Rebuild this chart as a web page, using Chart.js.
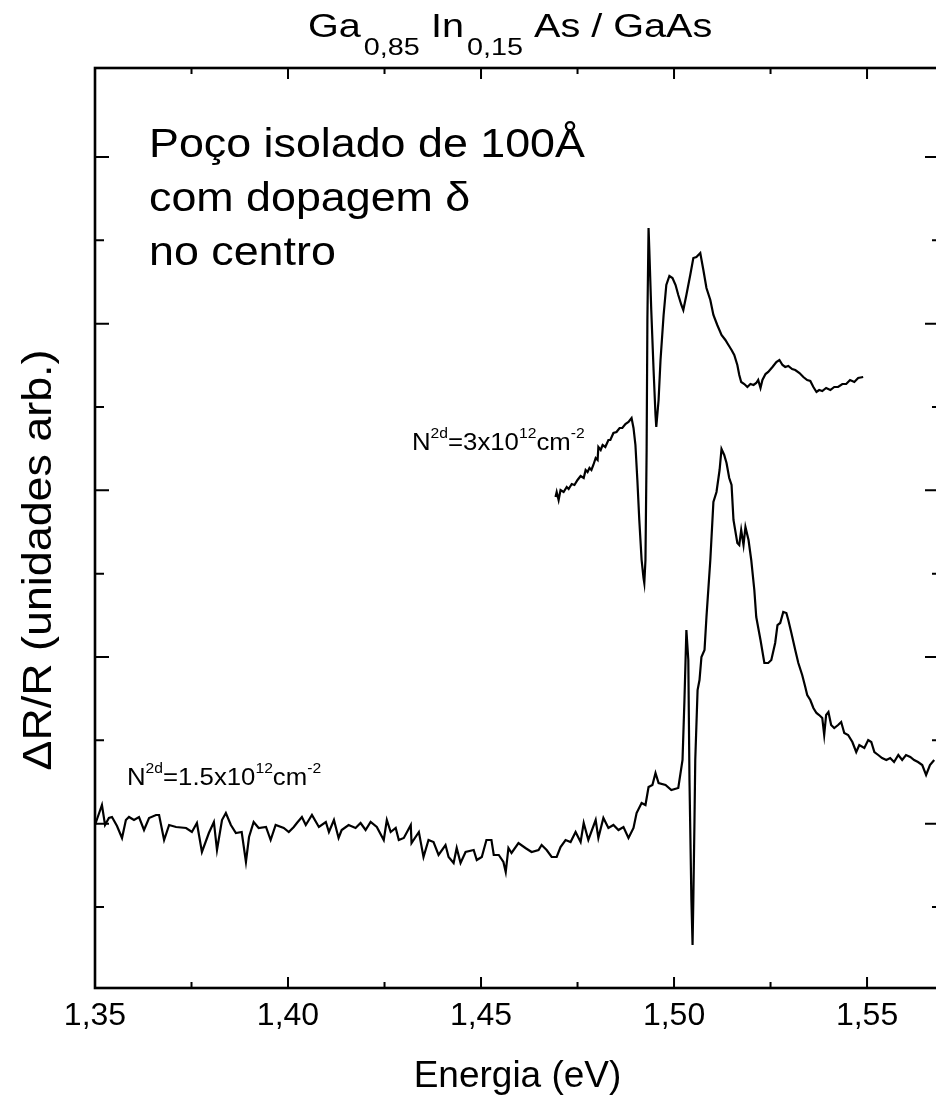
<!DOCTYPE html>
<html>
<head>
<meta charset="utf-8">
<script src="https://cdn.jsdelivr.net/npm/chart.js@4.4.1/dist/chart.umd.min.js"></script>
<style>
  html, body { margin: 0; padding: 0; background: #fff; overflow: hidden; }
  #wrap { position: relative; width: 950px; height: 1109px; }
</style>
</head>
<body>
<div id="wrap"><canvas id="grafico"></canvas></div>
<script>
// eixo x (energia, eV)
const X_MIN = 1.35;
const X_MAX = 1.5689;
const X_TICKS = [1.35, 1.40, 1.45, 1.50, 1.55];
const X_TICK_LABELS = ['1,35', '1,40', '1,45', '1,50', '1,55'];
const X_MINOR = [1.375, 1.425, 1.475, 1.525];

// eixo y (unidades arbitrárias, sem rótulos)
const Y_MIN = -9.72;
const Y_MAX = 100.68;
const Y_MAJOR = [10, 30, 50, 70, 90];
const Y_MINOR = [0, 20, 40, 60, 80];

// espectro N2d = 1.5x10^12 cm^-2
const E_15 = [
  1.3500, 1.3518, 1.3526, 1.3536, 1.3544, 1.3557, 1.3570, 1.3580, 1.3588, 1.3601,
  1.3614, 1.3627, 1.3640, 1.3658, 1.3666, 1.3679, 1.3692, 1.3710, 1.3736, 1.3751,
  1.3764, 1.3777, 1.3795, 1.3808, 1.3816, 1.3829, 1.3839, 1.3852, 1.3865, 1.3880,
  1.3891, 1.3899, 1.3911, 1.3924, 1.3943, 1.3955, 1.3968, 1.3989, 1.4002, 1.4015,
  1.4023, 1.4036, 1.4046, 1.4054, 1.4062, 1.4080, 1.4098, 1.4106, 1.4119, 1.4131,
  1.4139, 1.4157, 1.4175, 1.4188, 1.4201, 1.4214, 1.4230, 1.4248, 1.4256, 1.4266,
  1.4279, 1.4287, 1.4300, 1.4318, 1.4320, 1.4339, 1.4351, 1.4364, 1.4377, 1.4390,
  1.4408, 1.4416, 1.4429, 1.4437, 1.4447, 1.4460, 1.4481, 1.4489, 1.4502, 1.4514,
  1.4527, 1.4533, 1.4546, 1.4558, 1.4564, 1.4571, 1.4579, 1.4597, 1.4615, 1.4631,
  1.4649, 1.4657, 1.4670, 1.4683, 1.4696, 1.4706, 1.4719, 1.4732, 1.4745, 1.4758,
  1.4766, 1.4778, 1.4797, 1.4804, 1.4817, 1.4830, 1.4843, 1.4856, 1.4869, 1.4882,
  1.4895, 1.4903, 1.4916, 1.4926, 1.4934, 1.4944, 1.4952, 1.4960, 1.4978, 1.4993,
  1.5011, 1.5022, 1.5027, 1.5032, 1.5037, 1.5040, 1.5045, 1.5048, 1.5050, 1.5053,
  1.5055, 1.5061, 1.5066, 1.5071, 1.5079, 1.5084, 1.5094, 1.5102, 1.5110, 1.5118,
  1.5123, 1.5130, 1.5136, 1.5143, 1.5149, 1.5154, 1.5164, 1.5169, 1.5174, 1.5180,
  1.5185, 1.5193, 1.5200, 1.5208, 1.5213, 1.5224, 1.5234, 1.5244, 1.5252, 1.5262,
  1.5268, 1.5275, 1.5283, 1.5291, 1.5296, 1.5304, 1.5314, 1.5322, 1.5332, 1.5340,
  1.5345, 1.5353, 1.5361, 1.5369, 1.5376, 1.5384, 1.5389, 1.5394, 1.5400, 1.5407,
  1.5415, 1.5425, 1.5433, 1.5441, 1.5451, 1.5462, 1.5472, 1.5480, 1.5493, 1.5503,
  1.5511, 1.5519, 1.5529, 1.5539, 1.5550, 1.5560, 1.5570, 1.5581, 1.5591, 1.5601,
  1.5612, 1.5622, 1.5632, 1.5643, 1.5653, 1.5663, 1.5674
];
const DR_15 = [
  9.84, 12.24, 9.84, 10.68, 10.80, 9.72, 8.28, 10.44, 10.80, 10.44,
  10.80, 9.24, 10.68, 11.04, 11.04, 8.04, 9.84, 9.60, 9.48, 9.00,
  10.08, 6.60, 8.88, 10.20, 6.84, 10.44, 11.28, 9.84, 8.88, 9.00,
  5.40, 8.40, 10.20, 9.48, 9.60, 8.04, 9.84, 9.48, 9.00, 9.60,
  10.08, 10.80, 9.84, 10.44, 11.04, 9.60, 10.20, 9.00, 10.44, 8.28,
  9.24, 9.84, 9.48, 10.08, 9.24, 10.20, 9.60, 8.04, 10.44, 9.00,
  9.48, 8.04, 8.28, 9.84, 7.68, 9.00, 6.00, 8.04, 7.80, 6.24,
  7.44, 6.00, 5.28, 7.08, 5.28, 6.60, 6.84, 5.64, 6.00, 8.04,
  8.04, 6.24, 6.24, 5.40, 4.20, 7.08, 6.48, 7.68, 7.08, 6.60,
  6.84, 7.44, 6.84, 6.00, 6.00, 7.20, 8.04, 7.80, 9.00, 7.80,
  10.08, 8.04, 10.44, 8.28, 10.68, 9.48, 9.84, 9.24, 9.60, 8.28,
  9.48, 11.28, 12.48, 12.24, 14.40, 14.64, 16.08, 14.88, 14.64, 14.04,
  14.28, 17.64, 24.84, 33.24, 29.64, 15.24, 0.84, -4.56, 0.84, 10.44,
  17.64, 26.04, 27.24, 30.00, 30.84, 34.80, 41.64, 48.60, 49.80, 52.44,
  54.96, 54.24, 53.28, 51.48, 50.64, 46.44, 43.68, 43.44, 45.24, 43.44,
  45.60, 44.04, 41.64, 38.04, 34.80, 32.04, 29.28, 29.28, 29.64, 31.68,
  33.84, 34.08, 35.40, 35.28, 34.44, 32.88, 30.84, 29.28, 27.84, 26.40,
  25.44, 24.84, 23.88, 23.28, 23.04, 22.68, 20.64, 23.04, 23.40, 21.84,
  21.48, 21.84, 22.20, 20.88, 20.64, 19.80, 18.60, 19.44, 19.08, 20.04,
  19.80, 18.60, 18.24, 17.88, 17.64, 17.88, 17.40, 18.24, 17.64, 18.24,
  18.00, 17.64, 17.40, 17.04, 15.84, 17.04, 17.64
];

// espectro N2d = 3x10^12 cm^-2
const E_30 = [
  1.4693, 1.4696, 1.4701, 1.4706, 1.4714, 1.4722, 1.4727, 1.4735, 1.4742, 1.4750,
  1.4758, 1.4766, 1.4771, 1.4776, 1.4781, 1.4786, 1.4791, 1.4797, 1.4802, 1.4804,
  1.4810, 1.4815, 1.4822, 1.4830, 1.4835, 1.4843, 1.4851, 1.4859, 1.4866, 1.4874,
  1.4882, 1.4890, 1.4895, 1.4900, 1.4905, 1.4910, 1.4916, 1.4921, 1.4923, 1.4926,
  1.4929, 1.4931, 1.4934, 1.4936, 1.4941, 1.4947, 1.4952, 1.4954, 1.4960, 1.4965,
  1.4973, 1.4980, 1.4988, 1.4996, 1.5004, 1.5011, 1.5019, 1.5024, 1.5032, 1.5042,
  1.5050, 1.5058, 1.5068, 1.5076, 1.5084, 1.5094, 1.5102, 1.5112, 1.5123, 1.5133,
  1.5141, 1.5149, 1.5156, 1.5164, 1.5169, 1.5174, 1.5182, 1.5190, 1.5198, 1.5206,
  1.5213, 1.5218, 1.5224, 1.5229, 1.5237, 1.5244, 1.5255, 1.5265, 1.5273, 1.5281,
  1.5288, 1.5296, 1.5306, 1.5314, 1.5325, 1.5335, 1.5345, 1.5353, 1.5361, 1.5369,
  1.5376, 1.5384, 1.5394, 1.5405, 1.5415, 1.5425, 1.5436, 1.5446, 1.5456, 1.5467,
  1.5477, 1.5490
];
const DR_30 = [
  49.20, 49.80, 48.84, 50.04, 49.80, 50.40, 50.16, 50.76, 50.64, 51.24,
  51.72, 51.48, 52.44, 52.20, 52.68, 52.44, 53.04, 53.88, 53.64, 55.20,
  54.84, 55.44, 55.20, 56.04, 56.04, 56.88, 57.00, 57.48, 57.48, 57.96,
  58.20, 58.68, 57.48, 55.44, 51.24, 46.44, 41.64, 39.48, 38.88, 41.64,
  54.84, 70.44, 81.48, 78.84, 71.64, 64.44, 59.04, 57.60, 60.84, 65.64,
  71.04, 74.64, 75.72, 75.48, 74.64, 73.44, 72.24, 71.64, 73.44, 75.84,
  77.88, 78.00, 78.48, 76.44, 74.28, 72.84, 71.04, 69.84, 68.64, 68.04,
  67.44, 66.84, 66.24, 65.04, 63.84, 63.00, 62.76, 62.40, 62.76, 62.64,
  62.88, 63.24, 62.28, 63.24, 63.96, 64.20, 64.80, 65.40, 65.64, 65.04,
  64.80, 64.92, 64.56, 64.44, 64.08, 63.60, 63.24, 63.12, 62.40, 61.80,
  62.04, 61.92, 62.28, 62.04, 62.40, 62.40, 62.76, 62.76, 63.24, 63.00,
  63.48, 63.60
];

const FONT = '"Liberation Sans", Arial, Helvetica, sans-serif';

// escreve texto com partes em subscrito / sobrescrito, levemente alargado
function textoRico(ctx, partes, x, y, tam, tamPeq, desloc, sx) {
  let cx = x;
  for (const p of partes) {
    const t = p.m ? tamPeq : tam;
    ctx.save();
    ctx.font = t + 'px ' + FONT;
    ctx.translate(cx, y + (p.m ? desloc : 0));
    ctx.scale(sx, 1);
    ctx.fillText(p.t, 0, 0);
    cx += ctx.measureText(p.t).width * sx + (p.g || 0);
    ctx.restore();
  }
}

const molduraPlugin = {
  id: 'moldura',
  afterDatasetsDraw(chart) {
    const { ctx, chartArea: a, scales: { x, y } } = chart;
    ctx.save();
    ctx.strokeStyle = '#000';
    ctx.lineWidth = 2.6;
    ctx.strokeRect(a.left, a.top, a.right - a.left, a.bottom - a.top);

    ctx.lineWidth = 2;
    ctx.beginPath();
    const marcaX = (v, len) => {
      const px = x.getPixelForValue(v);
      ctx.moveTo(px, a.bottom); ctx.lineTo(px, a.bottom - len);
      ctx.moveTo(px, a.top); ctx.lineTo(px, a.top + len);
    };
    const marcaY = (v, lenE, lenD) => {
      const py = y.getPixelForValue(v);
      ctx.moveTo(a.left, py); ctx.lineTo(a.left + lenE, py);
      ctx.moveTo(a.right, py); ctx.lineTo(a.right - lenD, py);
    };
    X_TICKS.forEach(v => marcaX(v, 11));
    X_MINOR.forEach(v => marcaX(v, 6));
    Y_MAJOR.forEach(v => marcaY(v, 14, 15));
    Y_MINOR.forEach(v => marcaY(v, 9, 8));
    ctx.stroke();
    ctx.restore();
  },
  afterDraw(chart) {
    const { ctx } = chart;
    ctx.save();
    ctx.fillStyle = '#000';
    ctx.textBaseline = 'alphabetic';
    ctx.textAlign = 'left';

    // título com subscritos
    textoRico(ctx, [
      { t: 'Ga', g: 3 }, { t: '0,85', m: true, g: 0 },
      { t: ' In', g: 3 }, { t: '0,15', m: true, g: 0 },
      { t: ' As / GaAs' }
    ], 308, 37, 33, 24, 18, 1.2);

    // anotação
    ctx.save();
    ctx.font = '40px ' + FONT;
    ['Poço isolado de 100Å', 'com dopagem δ', 'no centro'].forEach((l, i) => {
      ctx.save();
      ctx.translate(149, 157 + i * 54);
      ctx.scale(1.12, 1);
      ctx.fillText(l, 0, 0);
      ctx.restore();
    });
    ctx.restore();

    // rótulos das curvas
    textoRico(ctx, [
      { t: 'N' }, { t: '2d', m: true }, { t: '=3x10' }, { t: '12', m: true },
      { t: 'cm' }, { t: '-2', m: true }
    ], 412, 450, 23, 14, -12, 1.12);
    textoRico(ctx, [
      { t: 'N' }, { t: '2d', m: true }, { t: '=1.5x10' }, { t: '12', m: true },
      { t: 'cm' }, { t: '-2', m: true }
    ], 127, 785, 23, 14, -12, 1.12);

    // título do eixo y
    ctx.save();
    ctx.translate(40, 560);
    ctx.rotate(-Math.PI / 2);
    ctx.scale(1.12, 1);
    ctx.font = '40px ' + FONT;
    ctx.textAlign = 'center';
    ctx.textBaseline = 'middle';
    ctx.fillText('ΔR/R (unidades arb.)', 0, 0);
    ctx.restore();

    ctx.restore();
  }
};

const serie = (es, vs) => es.map((e, i) => ({ x: e, y: vs[i] }));

new Chart(document.getElementById('grafico'), {
  type: 'line',
  data: {
    datasets: [
      {
        label: 'N2d=1.5x10^12 cm^-2',
        data: serie(E_15, DR_15),
        borderColor: '#000',
        borderWidth: 2.2,
        pointRadius: 0,
        tension: 0,
        fill: false
      },
      {
        label: 'N2d=3x10^12 cm^-2',
        data: serie(E_30, DR_30),
        borderColor: '#000',
        borderWidth: 2.2,
        pointRadius: 0,
        tension: 0,
        fill: false
      }
    ]
  },
  options: {
    responsive: true,
    maintainAspectRatio: false,
    animation: false,
    layout: { padding: { left: 95, right: 10, top: 68, bottom: 0 } },
    plugins: { legend: { display: false }, tooltip: { enabled: false } },
    scales: {
      x: {
        type: 'linear',
        min: X_MIN,
        max: X_MAX,
        afterBuildTicks: s => { s.ticks = X_TICKS.map(v => ({ value: v })); },
        afterFit: s => { s.height = 121; },
        grid: { display: false, drawTicks: false },
        border: { display: false },
        ticks: {
          color: '#000',
          font: { family: FONT, size: 32 },
          padding: 9,
          maxRotation: 0,
          autoSkip: false,
          callback: (v, i) => X_TICK_LABELS[i]
        },
        title: {
          display: true,
          text: 'Energia (eV)',
          color: '#000',
          font: { family: FONT, size: 37 },
          padding: { top: 0, bottom: 10 }
        }
      },
      y: {
        type: 'linear',
        display: false,
        min: Y_MIN,
        max: Y_MAX
      }
    }
  },
  plugins: [molduraPlugin]
});
</script>
</body>
</html>
